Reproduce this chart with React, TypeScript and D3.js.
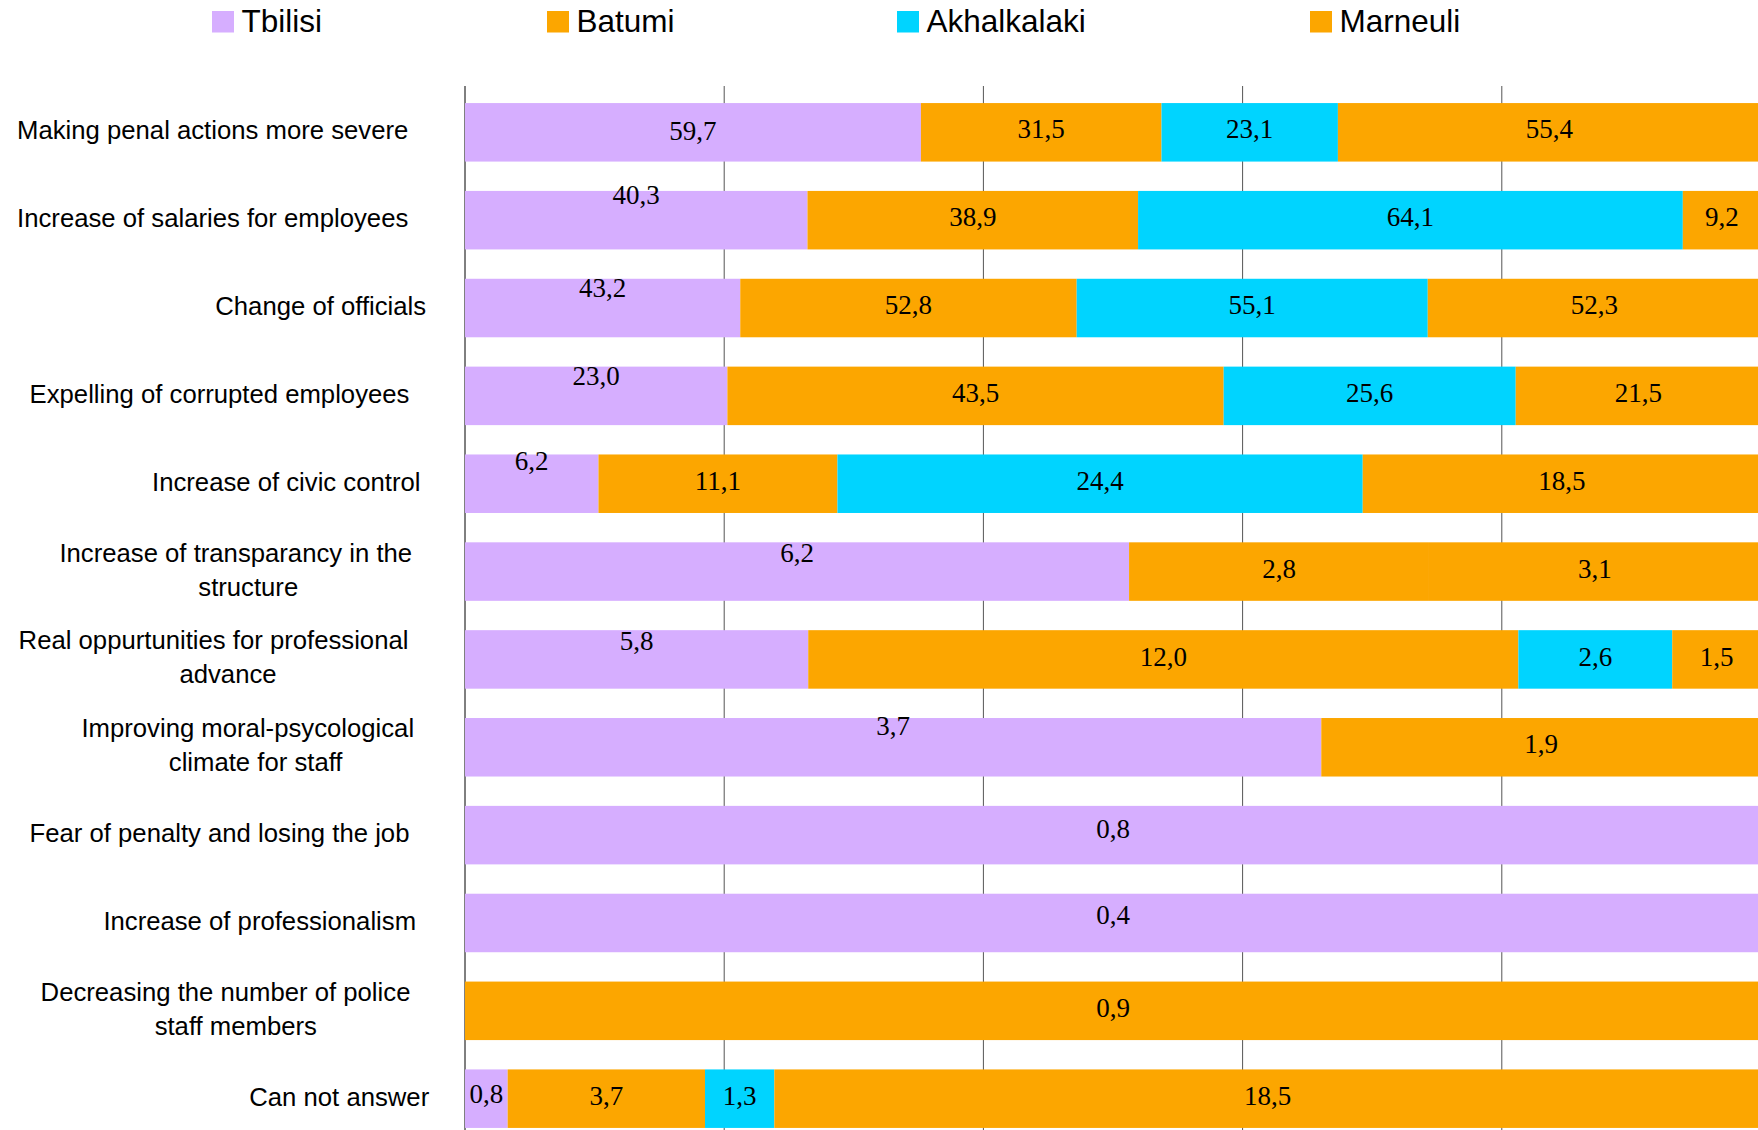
import React, { useEffect, useRef } from "react";
import * as d3 from "d3";

const categories = [
  "Making penal actions more severe",
  "Increase of salaries for employees",
  "Change of officials",
  "Expelling of corrupted employees",
  "Increase of civic control",
  "Increase of transparancy in the\nstructure",
  "Real oppurtunities for professional\nadvance",
  "Improving moral-psycological\nclimate for staff",
  "Fear of penalty and losing the job",
  "Increase of professionalism",
  "Decreasing the number of police\nstaff members",
  "Can not answer",
];

const seriesNames = ["Tbilisi", "Batumi", "Akhalkalaki", "Marneuli"];

const tbilisi = [59.7, 40.3, 43.2, 23.0, 6.2, 6.2, 5.8, 3.7, 0.8, 0.4, 0, 0.8];
const batumi = [31.5, 38.9, 52.8, 43.5, 11.1, 2.8, 12.0, 0, 0, 0, 0.9, 3.7];
const akhalkalaki = [23.1, 64.1, 55.1, 25.6, 24.4, 0, 2.6, 0, 0, 0, 0, 1.3];
const marneuli = [55.4, 9.2, 52.3, 21.5, 18.5, 3.1, 1.5, 1.9, 0, 0, 0, 18.5];

const seriesColors = ["#D6AEFF", "#FCA600", "#00D4FF", "#FCA600"];

// extra upward shift of the Tbilisi value labels, as in the reference
const tbilisiLabelLift = [-2, 22, 17, 17, 20, 16, 16, 18, 3, 5, 0, 2];

const xTicks = [0, 0.2, 0.4, 0.6, 0.8, 1];

const legendX = [212, 547, 897, 1310];

export default function App() {
  const ref = useRef<SVGSVGElement>(null);

  useEffect(() => {
    const svg = d3.select(ref.current);
    svg.selectAll("*").remove();

    const W = 1758;
    const H = 1130;

    const x = d3.scaleLinear().domain([0, 1]).range([465, 1761]);
    const y = d3
      .scaleBand<string>()
      .domain(categories)
      .range([88.4, 1142.6])
      .paddingInner(0.334)
      .paddingOuter(0.167);

    const rows = categories.map((c, i) => ({
      cat: c,
      i,
      Tbilisi: tbilisi[i],
      Batumi: batumi[i],
      Akhalkalaki: akhalkalaki[i],
      Marneuli: marneuli[i],
    }));

    const stack = d3
      .stack<any>()
      .keys(seriesNames)
      .offset(d3.stackOffsetExpand);
    const stacked = stack(rows);

    svg.append("rect").attr("width", W).attr("height", H).attr("fill", "#fff");

    // gridlines
    svg
      .append("g")
      .selectAll("line")
      .data(xTicks)
      .join("line")
      .attr("x1", (d) => x(d))
      .attr("x2", (d) => x(d))
      .attr("y1", 86)
      .attr("y2", H)
      .attr("stroke", (d) => (d === 0 ? "#000" : "#555"))
      .attr("stroke-width", 1);

    // bars
    const bh = y.bandwidth();
    stacked.forEach((layer, si) => {
      svg
        .append("g")
        .selectAll("rect")
        .data(layer)
        .join("rect")
        .attr("x", (d) => x(d[0]))
        .attr("width", (d) => Math.max(0, x(d[1]) - x(d[0])))
        .attr("y", (d: any) => y(d.data.cat)!)
        .attr("height", bh)
        .attr("fill", seriesColors[si]);
    });

    // value labels
    const fmt = (v: number) => d3.format(".1f")(v).replace(".", ",");
    const labelG = svg.append("g");
    stacked.forEach((layer, si) => {
      layer.forEach((d: any) => {
        const v = d.data[seriesNames[si]];
        if (!v) return;
        const cx = (x(d[0]) + x(d[1])) / 2;
        const cy = y(d.data.cat)! + bh / 2;
        const lift = 3 + (si === 0 ? tbilisiLabelLift[d.data.i] : 0);
        labelG
          .append("text")
          .attr("x", cx)
          .attr("y", cy - lift + 9.1)
          .attr("text-anchor", "middle")
          .attr("font-family", "'Liberation Serif', 'Times New Roman', serif")
          .attr("font-size", 27)
          .attr("fill", "#000")
          .text(fmt(v));
      });
    });

    // category labels
    const R = 447;
    const s = 0.91;
    const catG = svg.append("g");
    categories.forEach((c) => {
      const lines = c.split("\n");
      const cy = y(c)! + bh / 2;
      const texts = lines.map((ln, li) => {
        const baseline =
          lines.length === 1 ? cy + 7 : li === 0 ? cy - 10 : cy + 24;
        return catG
          .append("text")
          .attr("y", baseline)
          .attr("font-family", "'Liberation Sans', Arial, sans-serif")
          .attr("font-size", 25.7)
          .attr("fill", "#000")
          .text(ln);
      });
      const widths = texts.map((t) => (t.node() as SVGTextElement).getComputedTextLength());
      const maxW = Math.max(...widths);
      texts.forEach((t, k) => {
        t.attr("x", R - (maxW + widths[k]) / (2 * s));
      });
    });

    // legend
    const lg = svg.append("g");
    seriesNames.forEach((name, i) => {
      lg.append("rect")
        .attr("x", legendX[i])
        .attr("y", 11)
        .attr("width", 22)
        .attr("height", 21.5)
        .attr("fill", seriesColors[i]);
      lg.append("text")
        .attr("x", legendX[i] + 29.5)
        .attr("y", 32)
        .attr("font-family", "'Liberation Sans', Arial, sans-serif")
        .attr("font-size", 31.5)
        .attr("fill", "#000")
        .text(name);
    });
  }, []);

  return (
    <svg
      ref={ref}
      width={1758}
      height={1130}
      style={{ position: "absolute", left: 0, top: 0, display: "block" }}
    />
  );
}
